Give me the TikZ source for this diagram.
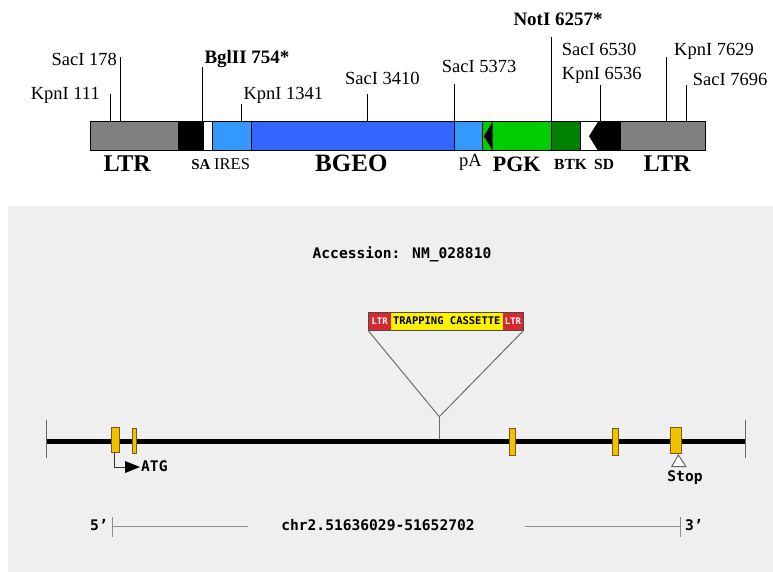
\documentclass[tikz,border=0pt]{standalone}
\usepackage{fontspec}
\setmainfont{Liberation Serif}
\newfontfamily\pixmono{DejaVu Sans Mono}
\definecolor{ltrgray}{HTML}{808080}
\definecolor{iresblue}{HTML}{3399FF}
\definecolor{geoblue}{HTML}{3366FF}
\definecolor{pgkgreen}{HTML}{00CC00}
\definecolor{btkgreen}{HTML}{008000}
\definecolor{panelbg}{HTML}{EFEFEF}
\definecolor{exonfill}{HTML}{F2C200}
\definecolor{exonedge}{HTML}{7A5A10}
\definecolor{cassred}{HTML}{D7282F}
\definecolor{scalegray}{HTML}{8C8C8C}
\definecolor{vgray}{HTML}{6E6E6E}
\tikzset{
  seg/.style={draw=black, line width=1.2pt},
  site/.style={draw=black, line width=1pt},
  sitelbl/.style={inner sep=0pt, font=\fontsize{18.5}{20}\selectfont},
  sitebold/.style={inner sep=0pt, font=\fontsize{19}{20}\selectfont\bfseries},
  partlbl/.style={inner sep=0pt, anchor=base west},
  pix/.style={inner sep=0pt, font=\pixmono\bfseries\fontsize{14.6}{16}\selectfont},
  exon/.style={fill=exonfill, draw=exonedge, line width=0.9pt},
  scaleline/.style={draw=scalegray, line width=1.5pt},
}
\begin{document}
\begin{tikzpicture}[x=1pt, y=-1pt]
\useasboundingbox (0,0) rectangle (773,572);

% ---------------- vector map ----------------
\def\T{121.7}\def\B{150.7}\def\M{136.2}
\fill[ltrgray]  (90.7,\T) rectangle (178,\B);
\fill[black]    (178,\T) rectangle (203,\B);
\fill[white]    (203,\T) rectangle (212.7,\B);
\fill[iresblue] (212.7,\T) rectangle (251.7,\B);
\fill[geoblue]  (251.7,\T) rectangle (454.7,\B);
\fill[iresblue] (454.7,\T) rectangle (482.7,\B);
\fill[pgkgreen] (482.7,\T) rectangle (551,\B);
\fill[black]    (492.7,\T) -- (484,\M) -- (492.7,\B) -- cycle;
\fill[btkgreen] (551,\T) rectangle (580.3,\B);
\fill[white]    (580.3,\T) rectangle (620,\B);
\fill[black]    (598,\T) -- (589,\M) -- (598,\B) -- (620,\B) -- (620,\T) -- cycle;
\fill[ltrgray]  (620,\T) rectangle (705.7,\B);
\foreach \xx in {178,203,212.7,251.7,454.7,482.7,551,580.3,620}
  \draw[black, line width=1pt] (\xx,\T) -- (\xx,\B);
\draw[seg] (90.7,\T) rectangle (705.7,\B);

% restriction sites
\draw[site] (110,94.3) -- (110,\T);
\draw[site] (120,57.3) -- (120,\T);
\draw[site] (202.7,66.7) -- (202.7,\T);
\draw[site] (241.7,104) -- (241.7,\T);
\draw[site] (367.3,94.3) -- (367.3,\T);
\draw[site] (454.7,84.3) -- (454.7,\T);
\draw[site] (551,37.3) -- (551,\T);
\draw[site] (600,85) -- (600,\T);
\draw[site] (666.7,57.3) -- (666.7,\T);
\draw[site] (686,85) -- (686,\T);

\node[sitelbl, anchor=base east] (kpn111) at (100,100) {KpnI 111};
\node[sitelbl, anchor=base east] (sac178) at (117,66) {SacI 178};
\node[sitebold, anchor=base west] (bgl754) at (204.3,64) {BglII 754*};
\node[sitelbl, anchor=base west] (kpn1341) at (243.3,100) {KpnI 1341};
\node[sitelbl, anchor=base west] (sac3410) at (345,85) {SacI 3410};
\node[sitelbl, anchor=base west] (sac5373) at (441.7,72.7) {SacI 5373};
\node[sitebold, anchor=base west] (not6257) at (513.3,25.7) {NotI 6257*};
\node[sitelbl, anchor=base west] (sac6530) at (561.7,56) {SacI 6530};
\node[sitelbl, anchor=base west] (kpn6536) at (561.7,80) {KpnI 6536};
\node[sitelbl, anchor=base west] (kpn7629) at (674,56) {KpnI 7629};
\node[sitelbl, anchor=base west] (sac7696) at (692.7,86) {SacI 7696};

% element names
\node[partlbl, font=\fontsize{24}{26}\selectfont\bfseries] (ltrL) at (103.3,171.7) {LTR};
\node[partlbl, font=\fontsize{15}{17}\selectfont\bfseries] (sa) at (191.2,170) {SA};
\node[partlbl, font=\fontsize{16.5}{18}\selectfont] (ires) at (214,170) {IRES};
\node[partlbl, font=\fontsize{25}{27}\selectfont\bfseries] (bgeo) at (315,171.7) {BGEO};
\node[partlbl, font=\fontsize{18.5}{20}\selectfont] (pa) at (459,167) {pA};
\node[partlbl, font=\fontsize{22}{24}\selectfont\bfseries] (pgk) at (492.7,171.7) {PGK};
\node[partlbl, font=\fontsize{15.5}{17}\selectfont\bfseries] (btk) at (554,170) {BTK};
\node[partlbl, font=\fontsize{15.5}{17}\selectfont\bfseries] (sd) at (594,170) {SD};
\node[partlbl, font=\fontsize{24}{26}\selectfont\bfseries] (ltrR) at (643.3,171.7) {LTR};

% ---------------- gene trap panel ----------------
\fill[panelbg] (8,206) rectangle (773,572);

\node[pix, anchor=base] (acc) at (402,258) {Accession: NM\_028810};

% trapping cassette
\fill[cassred] (368.3,312.7) rectangle (391,330.7);
\fill[yellow]  (391,312.7) rectangle (502.7,330.7);
\fill[cassred] (502.7,312.7) rectangle (523.3,330.7);
\draw[black!70, line width=0.8pt] (368.3,312.7) rectangle (523.3,330.7);
\node[inner sep=0pt, anchor=base, text=white, font=\pixmono\bfseries\fontsize{9}{10}\selectfont] (ltrA) at (379.7,324.5) {LTR};
\node[inner sep=0pt, anchor=base, font=\pixmono\bfseries\fontsize{10.5}{12}\selectfont] (tc) at (446.8,324.5) {TRAPPING CASSETTE};
\node[inner sep=0pt, anchor=base, text=white, font=\pixmono\bfseries\fontsize{9}{10}\selectfont] (ltrB) at (513,324.5) {LTR};

\coordinate (cl) at (368.3,330.7);
\coordinate (cr) at (523.3,330.7);
\coordinate (ins) at (439.3,416.7);
\coordinate (insbase) at (439.3,440);
\draw[vgray, line width=1pt] (cl) -- (ins) -- (cr);
\draw[vgray, line width=1.2pt] (ins) -- (insbase);

% chromosome
\draw[black, line width=5pt] (46.7,441.7) -- (745.7,441.7);
\draw[black!60, line width=1.5pt] (46.7,420) -- (46.7,458);
\draw[black!60, line width=1.5pt] (745.7,420) -- (745.7,458);

% exons
\draw[exon] (111.7,427.7) rectangle (119,452.7);
\draw[exon] (132.3,428) rectangle (136.7,453);
\draw[exon] (509.3,428) rectangle (515,455);
\draw[exon] (612.7,428) rectangle (618.3,455);
\draw[exon] (670,427.7) rectangle (681.7,453.3);

% start codon
\draw[black!80, line width=1pt] (114.3,452.7) -- (114.3,467) -- (126,467);
\fill[black] (125,461) -- (140,467) -- (125,473) -- cycle;
\node[pix, anchor=base west] (atg) at (141,471.5) {ATG};

% stop codon
\draw[black!60, line width=1pt, fill=white] (678.3,455) -- (686,466.7) -- (671.7,466.7) -- cycle;
\node[pix, anchor=base] (stop) at (685,481) {Stop};

% scale
\node[pix, anchor=base east] (five) at (108,530.7) {5’};
\draw[scaleline] (112.3,526.7) -- (248.3,526.7);
\draw[scaleline] (112.3,517.3) -- (112.3,536.7);
\node[pix, anchor=base] (chr) at (378,530.7) {chr2.51636029-51652702};
\draw[scaleline] (525,526.7) -- (680.7,526.7);
\draw[scaleline] (680.7,517.3) -- (680.7,536.7);
\node[pix, anchor=base west] (three) at (685,530.7) {3’};
\end{tikzpicture}
\end{document}
